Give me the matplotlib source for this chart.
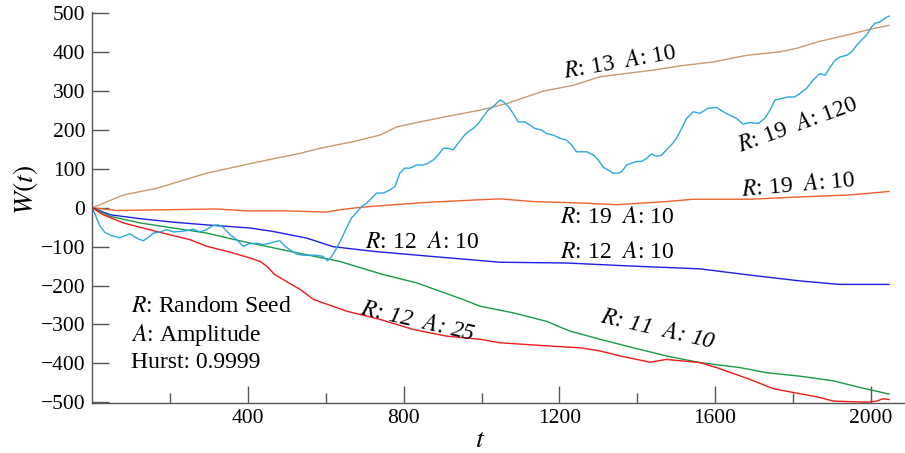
import matplotlib
matplotlib.use('Agg')
import matplotlib.pyplot as plt
import numpy as np
from matplotlib.ticker import MultipleLocator, FixedLocator

plt.rcParams['font.family'] = ['Liberation Serif', 'DejaVu Serif']
plt.rcParams['mathtext.fontset'] = 'stix'

# R: 19  A: 120 (cyan, noisy)
tCyan = [0, 20, 33, 54, 71, 80, 97, 114, 131, 148, 157, 174, 191, 208, 225, 242, 259, 277, 294, 311,
         324, 336, 354, 371, 388, 401, 422, 439, 456, 474, 482, 495, 508, 525, 542, 559, 576, 593, 604, 615,
         628, 641, 653, 666, 679, 692, 705, 718, 731, 748, 765, 778, 790, 803, 816, 833, 850, 863, 876, 889,
         902, 914, 927, 940, 953, 966, 979, 992, 1004, 1017, 1030, 1047, 1056, 1069, 1081, 1094, 1111, 1124, 1137, 1154,
         1167, 1184, 1201, 1218, 1231, 1244, 1257, 1270, 1287, 1300, 1313, 1326, 1338, 1351, 1360, 1373, 1386, 1398, 1411, 1424,
         1437, 1450, 1463, 1475, 1488, 1501, 1514, 1527, 1544, 1561, 1582, 1604, 1621, 1638, 1655, 1672, 1689, 1711, 1728, 1741,
         1754, 1771, 1788, 1805, 1818, 1835, 1852, 1869, 1883, 1896, 1908, 1921, 1938, 1951, 1964, 1976, 1989, 2002, 2010, 2023,
         2036, 2047]
wCyan = [0, -48, -64, -73, -77, -73, -67, -78, -85, -73, -65, -62, -56, -62, -61, -59, -55, -62, -56, -45,
         -44, -50, -69, -82, -99, -93, -91, -95, -91, -86, -85, -99, -108, -119, -122, -122, -122, -125, -136, -125,
         -103, -78, -52, -26, -12, 3, 12, 25, 38, 38, 46, 55, 89, 102, 102, 110, 110, 115, 123, 136,
         153, 153, 149, 166, 183, 196, 204, 217, 234, 251, 260, 277, 273, 260, 243, 221, 221, 213, 204, 200,
         191, 187, 179, 174, 162, 144, 144, 144, 136, 123, 104, 97, 89, 89, 93, 110, 115, 119, 119, 127,
         138, 132, 136, 149, 162, 179, 204, 230, 247, 243, 256, 258, 247, 238, 230, 215, 219, 217, 230, 251,
         277, 281, 285, 285, 294, 307, 328, 345, 341, 362, 379, 388, 392, 401, 418, 431, 444, 465, 474, 478,
         487, 493]

# R: 13  A: 10 (tan)
tTan = [0, 80, 165, 294, 431, 534, 585, 670, 739, 782, 842, 927, 996, 1064, 1159, 1236, 1304, 1441, 1510,
        1595, 1681, 1766, 1809, 1869, 1946, 2006, 2047]
wTan = [0, 33, 50, 89, 119, 140, 153, 170, 187, 208, 221, 238, 251, 268, 300, 315, 337, 354, 365,
        375, 392, 401, 410, 428, 446, 461, 469]

# R: 19  A: 10 (orange)
tOrange = [0, 63, 191, 320, 397, 491, 534, 602, 636, 696, 790, 876, 1047, 1133, 1262, 1347, 1475, 1544,
           1689, 1818, 1946, 2047]
wOrange = [0, -7, -5, -3, -8, -8, -9, -11, -5, 2, 9, 15, 23, 16, 12, 8, 16, 22,
           22, 28, 33, 42]

# R: 12  A: 10 (blue)
tBlue = [0, 46, 123, 208, 294, 405, 465, 551, 619, 722, 790, 1047, 1218, 1390, 1561, 1689, 1818, 1920, 2047]
wBlue = [0, -18, -28, -37, -44, -52, -61, -78, -100, -112, -118, -140, -142, -150, -157, -173, -188, -197, -197]

# R: 11  A: 10 (green)
tGreen = [0, 46, 123, 208, 294, 379, 465, 551, 636, 705, 748, 833, 953, 996, 1081, 1167, 1227, 1304, 1390,
          1475, 1561, 1664, 1732, 1818, 1904, 1972, 2047]
wGreen = [0, -22, -39, -52, -65, -85, -103, -121, -138, -159, -172, -193, -236, -253, -270, -292, -317, -338, -360,
          -381, -398, -411, -424, -433, -445, -462, -479]

# R: 12  A: 25 (red)
tRed = [0, 28, 80, 165, 251, 294, 354, 405, 431, 448, 469, 534, 569, 654, 739, 825, 910, 996, 1047, 1167,
        1253, 1304, 1356, 1433, 1475, 1561, 1604, 1689, 1749, 1801, 1861, 1904, 1989, 2015, 2032, 2047]
wRed = [0, -18, -39, -61, -82, -99, -114, -129, -138, -150, -172, -210, -236, -266, -287, -313, -330, -338, -347, -355,
        -360, -368, -381, -397, -390, -398, -411, -441, -465, -475, -486, -497, -500, -497, -491, -493]

fig = plt.figure(figsize=(9.05, 4.53), dpi=100)
ax = fig.add_axes([0.102, 0.1095, 0.898, 0.8636])

ax.plot(tTan, wTan, color='#C89A6E', lw=1.0)
ax.plot(tOrange, wOrange, color='#F2602E', lw=1.0)
ax.plot(tBlue, wBlue, color='#1E1EEB', lw=1.0)
ax.plot(tGreen, wGreen, color='#1A9A46', lw=1.0)
ax.plot(tRed, wRed, color='#F01A1A', lw=1.0)
ax.plot(tCyan, wCyan, color='#2AA8E0', lw=1.0)

ax.set_xlim(0, 2088)
ax.set_ylim(-503, 503)

for s in ['top', 'right']:
    ax.spines[s].set_visible(False)
for s in ['left', 'bottom']:
    ax.spines[s].set_color('#555555')
    ax.spines[s].set_linewidth(1.0)

ax.xaxis.set_major_locator(FixedLocator([400, 800, 1200, 1600, 2000]))
ax.xaxis.set_minor_locator(FixedLocator([200, 600, 1000, 1400, 1800]))
ax.yaxis.set_major_locator(MultipleLocator(100))
ax.tick_params(axis='both', which='major', direction='in', length=12, width=1.0, color='#555555', labelsize=15.5)
ax.tick_params(axis='x', which='minor', direction='in', length=7, width=1.0, color='#555555')
ax.tick_params(axis='x', which='major', pad=4)
ax.tick_params(axis='y', which='major', pad=5)

ax.set_xlabel('$t$', fontsize=20)
ax.xaxis.set_label_coords(0.477, -0.062)
ax.set_ylabel('$W(t)$', fontsize=20)
ax.yaxis.set_label_coords(-0.064, 0.545)

fs = 17
ax.text(1355, 372, '$R$: 13  $A$: 10', fontsize=fs, rotation=10, ha='center', va='center')
ax.text(1813, 213, '$R$: 19  $A$: 120', fontsize=fs, rotation=20, ha='center', va='center')
ax.text(1813, 58, '$R$: 19  $A$: 10', fontsize=fs, rotation=5, ha='center', va='center')
ax.text(1348, -26, '$R$: 19  $A$: 10', fontsize=fs, ha='center', va='center')
ax.text(847, -88, '$R$: 12  $A$: 10', fontsize=fs, ha='center', va='center')
ax.text(1348, -116, '$R$: 12  $A$: 10', fontsize=fs, ha='center', va='center')
ax.text(837, -293, '$R$: 12  $A$: 25', fontsize=fs, rotation=-13, ha='center', va='center', style='italic')
ax.text(1453, -314, '$R$: 11  $A$: 10', fontsize=fs, rotation=-13, ha='center', va='center', style='italic')

ax.text(99, -255, '$R$: Random Seed', fontsize=17, ha='left', va='center')
ax.text(99, -327, '$A$: Amplitude', fontsize=17, ha='left', va='center')
ax.text(99, -399, 'Hurst: 0.9999', fontsize=17, ha='left', va='center')

fig.savefig('out.png', dpi=100)
